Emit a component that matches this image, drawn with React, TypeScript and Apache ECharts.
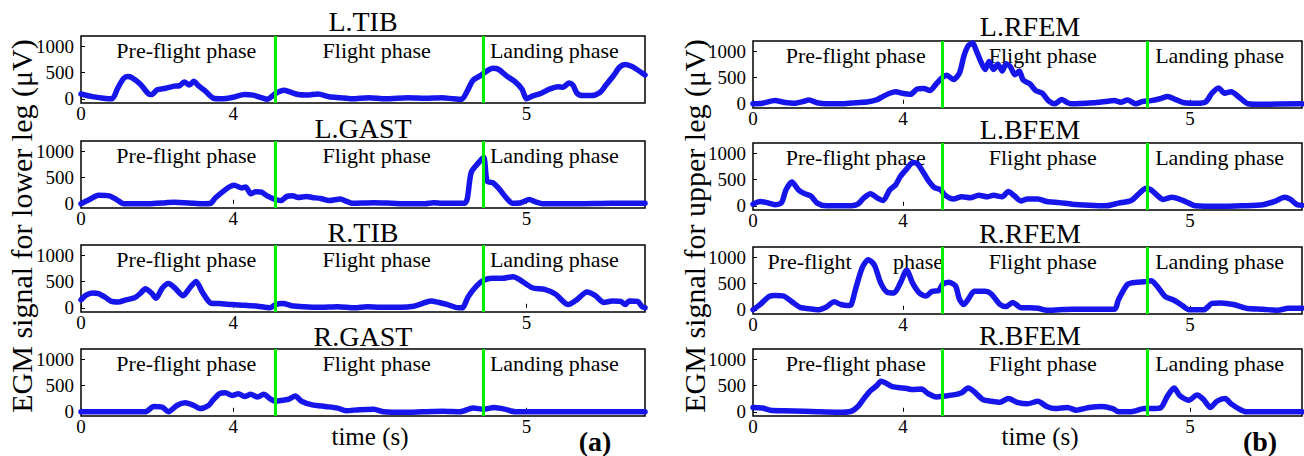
import React, { useEffect, useRef } from 'react';
import * as echarts from 'echarts';

const LEFT_NAMES = ['L.TIB', 'L.GAST', 'R.TIB', 'R.GAST'];
const RIGHT_NAMES = ['L.RFEM', 'L.BFEM', 'R.RFEM', 'R.BFEM'];
const PHASE_LABELS = ['Pre-flight phase', 'Flight phase', 'Landing phase'];
const X_TICK_LABELS = ['0', '4', '5'];
const X_TICKS_LEFT = [0, 27, 79];
const X_TICKS_RIGHT = [0, 27.3, 79.6];
const PHASE_BOUNDS_LEFT = [34.5, 71.4];
const PHASE_BOUNDS_RIGHT = [34.5, 71.8];
const Y_TICKS = [0, 500, 1000];
const Y_MIN = -80;
const Y_MAX = 1190;

const L_TIB = [[0,90],[2,40],[4,10],[5.5,0],[6.5,200],[7.5,380],[8.3,420],[9,400],[10.5,280],[12,90],[12.5,80],[13.5,170],[15,200],[16.5,240],[17.5,250],[18.3,320],[19.2,260],[20,330],[20.8,250],[22,150],[23.5,10],[25,0],[27,30],[29,80],[30.5,70],[32,20],[33,-10],[34.5,100],[36,160],[37,130],[38.5,80],[40,70],[42,90],[44,40],[46,20],[48,0],[51,20],[54,0],[58,20],[61,10],[64,20],[66,0],[67.5,-10],[68.5,150],[69.5,350],[71,450],[72,530],[73,580],[74,560],[75.5,430],[77,320],[78.2,180],[79,0],[80,50],[81.5,100],[83,180],[84.5,230],[85.5,220],[86.5,300],[87.2,260],[88,100],[89,60],[90.5,60],[92,120],[93,250],[94.5,450],[95.5,600],[96.5,650],[97.5,620],[98.5,560],[100,450]];
const L_GAST = [[0,0],[1.5,80],[3.1,160],[5,150],[6.3,80],[7.6,0],[12,0],[15,20],[16.5,30],[20,10],[21.5,0],[23,10],[23.8,110],[25.5,260],[26.5,330],[27.2,350],[28.5,300],[29.2,320],[30.1,190],[31,230],[32,220],[33,150],[34,100],[34.5,80],[35.5,60],[36.5,140],[37.5,150],[38.5,120],[40,140],[41,120],[42.5,100],[44,60],[46,90],[47,50],[48,10],[52,20],[55,10],[58,0],[61,0],[62.5,20],[64,10],[68,10],[68.5,100],[69.2,600],[70.5,780],[71.4,880],[72,430],[73,400],[74,300],[75.5,100],[76.5,10],[78,20],[79.5,80],[80.5,40],[82,0],[88,0],[94,10],[100,10]];
const R_TIB = [[0,150],[0.9,240],[2,280],[3.1,270],[4.3,200],[5.4,120],[6.5,110],[8,150],[9.5,190],[10.6,280],[11.4,360],[12.5,280],[13.3,180],[14.4,370],[15.5,460],[16.6,380],[18.1,230],[19.3,380],[20.4,500],[21.5,300],[23,90],[24.5,80],[26.8,60],[29,50],[31.3,30],[33.5,0],[34.5,60],[35.8,80],[37.3,40],[39.5,20],[42.5,10],[45.5,20],[48.5,0],[50.7,20],[53,10],[56.7,10],[59,30],[60.5,80],[62,130],[63.5,100],[65,60],[66.9,0],[67.6,0],[68.7,220],[70.2,420],[71.4,520],[72.9,560],[74.7,560],[76.6,590],[77.7,540],[80,380],[82.2,350],[84.1,260],[86.4,60],[87.9,150],[89.7,300],[91.2,230],[92.7,100],[94.2,130],[95.7,120],[96.5,60],[97.2,130],[98.7,120],[99.5,20],[100,0]];
const R_GAST = [[0,0],[11.4,0],[12.9,100],[14.4,90],[15.5,0],[17,120],[18.5,170],[20,120],[21.1,60],[22.6,120],[23.4,220],[24.5,340],[25.6,360],[26.8,310],[27.9,340],[29,290],[30.1,330],[31.3,280],[32.4,330],[33.5,250],[34.5,200],[35.8,220],[36.9,240],[38,300],[39.1,200],[41,130],[43.3,100],[45.5,70],[47,20],[49.3,40],[51.9,50],[53.7,0],[57.5,-10],[60.5,0],[64.2,10],[67.2,0],[69.5,70],[71.4,50],[73.2,80],[75.1,50],[77,0],[100,0]];
const L_RFEM = [[0,0],[1.7,10],[4,60],[5.6,30],[7.5,10],[9,40],[10.2,70],[11.7,20],[13.3,0],[16.4,0],[18.7,20],[21,40],[22.6,80],[23.7,140],[24.9,200],[26,230],[27.2,200],[28.7,180],[29.9,280],[31.1,290],[32.2,250],[33.4,380],[34.5,500],[35.3,540],[36.5,460],[37.6,580],[38.4,900],[39.2,1100],[40,1150],[40.7,1000],[41.5,800],[42.3,650],[43,800],[43.8,650],[44.6,750],[45.4,620],[46.1,760],[46.9,700],[47.7,550],[48.5,620],[49.2,450],[50.4,380],[51.5,250],[52.7,200],[53.9,50],[55,0],[56.2,80],[57.3,20],[58.1,0],[61.9,20],[64.7,50],[65.8,60],[67,30],[68.2,70],[69.7,0],[70.9,40],[72.5,60],[74.3,100],[75.5,140],[77,80],[78.6,20],[80.9,10],[82.5,40],[83.6,200],[84.8,300],[85.9,200],[87.1,230],[88.6,120],[90.2,0],[92.1,-10],[100,0]];
const L_BFEM = [[0,30],[1.3,80],[2.5,60],[4,20],[5.2,60],[6,300],[7.1,450],[8.3,300],[9.4,230],[10.6,180],[11.7,50],[13.3,0],[17.9,0],[19.1,30],[20.2,150],[21.4,230],[22.6,150],[23.7,100],[24.9,300],[26,400],[26.8,550],[28,700],[29.1,820],[29.9,800],[31.1,620],[31.8,500],[33,350],[34.2,300],[35,200],[36.5,130],[38,170],[39.6,150],[41.1,200],[42.7,170],[43.8,200],[45.4,170],[46.5,270],[47.7,180],[48.8,90],[50,130],[51.9,130],[53.5,80],[55.8,60],[58.1,30],[61.2,10],[64.3,0],[66.6,50],[68.9,100],[70.5,250],[71.6,330],[72.5,300],[73.6,200],[74.7,120],[76.3,160],[77.8,120],[79.4,50],[80.5,0],[85.2,-10],[89,0],[92.9,20],[95.2,90],[96.8,160],[97.9,120],[99.1,20],[100,10]];
const R_RFEM = [[0,0],[1.3,100],[2.9,250],[4,270],[5.6,260],[7.1,150],[8.7,40],[10.2,20],[11.7,0],[13.3,50],[14.8,150],[16,100],[17.2,80],[17.9,100],[18.7,400],[19.9,800],[21,950],[22.1,850],[23.3,500],[24.5,330],[25.7,320],[26.8,500],[28,750],[29.1,500],[30.3,320],[31.5,260],[32.6,350],[33.8,360],[34.5,480],[35.7,520],[36.9,450],[37.6,200],[38.4,100],[39.2,200],[40.3,350],[42.3,350],[43.4,300],[45,100],[46.1,60],[47.3,140],[48.8,40],[50.4,40],[51.9,30],[53.5,-10],[55.8,0],[58.1,10],[65.8,10],[66.6,200],[68.2,480],[69.7,520],[71.3,530],[72.5,550],[73.6,450],[75.1,250],[76.7,180],[78.2,80],[79.4,0],[82.1,0],[83.6,120],[85.2,130],[87.5,100],[89.8,30],[92.9,10],[95.6,-10],[97.5,30],[100,30]];
const R_BFEM = [[0,80],[1.7,70],[3.2,30],[5.6,20],[9.4,10],[11.7,0],[15.6,-10],[17.9,10],[19.1,100],[20.2,250],[21.4,400],[22.6,500],[23.3,580],[24.1,550],[25.3,480],[26.4,460],[28,440],[29.1,420],[30.7,430],[31.8,350],[33.4,280],[34.9,300],[36.5,320],[38,360],[39.2,450],[40.3,380],[41.9,230],[43.4,200],[45,180],[46.5,250],[48.1,180],[50,150],[51.9,200],[53.5,100],[55,60],[57.3,80],[58.9,30],[61.2,80],[63.5,100],[65.5,60],[66.6,0],[68.9,0],[71.3,60],[72.5,60],[74.3,80],[75.5,300],[76.7,450],[77.8,300],[79.4,220],[80.9,320],[82.1,230],[83.3,80],[84.5,200],[86,250],[87.1,150],[88.6,50],[89.8,0],[100,0]];

const LEFT_DATA = [L_TIB, L_GAST, R_TIB, R_GAST];
const RIGHT_DATA = [L_RFEM, L_BFEM, R_RFEM, R_BFEM];

const FONT = 'Liberation Serif';

export default function App() {
  const ref = useRef<HTMLDivElement>(null);
  useEffect(() => {
    if (!ref.current) return;
    const chart = echarts.init(ref.current, undefined, { renderer: 'svg' });

    const panels: any[] = [];
    const leftTops = [36, 141, 245, 349];
    const rightTops = [41, 143, 247, 349];
    for (let i = 0; i < 4; i++) {
      panels.push({ name: LEFT_NAMES[i], data: LEFT_DATA[i], left: 81, width: 564, top: leftTops[i], height: 67, ticks: X_TICKS_LEFT, bounds: PHASE_BOUNDS_LEFT, cx: 363, side: 'L' });
    }
    for (let i = 0; i < 4; i++) {
      panels.push({ name: RIGHT_NAMES[i], data: RIGHT_DATA[i], left: 753, width: 549, top: rightTops[i], height: 67, ticks: X_TICKS_RIGHT, bounds: PHASE_BOUNDS_RIGHT, cx: 1030, side: 'R' });
    }
    const titleY = [21, 128, 232, 336, 26, 129, 233, 335];

    const labelStyle = (dx: number) => ({
      show: true,
      position: 'insideTop',
      distance: 3,
      offset: [dx, 0],
      color: '#000',
      fontFamily: FONT,
      fontSize: 22,
      lineHeight: 22,
      formatter: '{b}',
    });

    const grid = panels.map((p) => ({
      left: p.left, top: p.top, width: p.width, height: p.height,
      show: true, borderColor: '#000', borderWidth: 1.5, backgroundColor: 'transparent',
    }));
    const xAxis = panels.map((p, i) => ({
      type: 'value', gridIndex: i, min: 0, max: 100,
      axisLine: { show: false }, splitLine: { show: false },
      axisTick: { show: true, inside: true, length: 4, customValues: p.ticks, lineStyle: { color: '#000', width: 1 } },
      axisLabel: {
        customValues: p.ticks,
        formatter: (v: number) => {
          let best = 0;
          p.ticks.forEach((t: number, k: number) => { if (Math.abs(t - v) < Math.abs(p.ticks[best] - v)) best = k; });
          return X_TICK_LABELS[best];
        },
        margin: 1, fontSize: 19, fontFamily: FONT, color: '#000',
      },
    }));
    const yAxis = panels.map((p, i) => ({
      type: 'value', gridIndex: i, min: Y_MIN, max: Y_MAX,
      axisLine: { show: false }, splitLine: { show: false },
      axisTick: { show: true, inside: true, length: 4, customValues: Y_TICKS, lineStyle: { color: '#000', width: 1 } },
      axisLabel: { customValues: Y_TICKS, formatter: (v: number) => String(Math.round(v)), margin: 7, fontSize: 19, fontFamily: FONT, color: '#000' },
    }));

    const series = panels.map((p, i) => {
      const [b0, b1] = p.bounds;
      let areas: any[];
      if (p.name === 'R.RFEM') {
        areas = [
          [{ name: 'Pre-flight', xAxis: 0, label: labelStyle(0) }, { xAxis: 20.6 }],
          [{ name: 'phase', xAxis: 25.6, label: labelStyle(0) }, { xAxis: b0 }],
          [{ name: PHASE_LABELS[1], xAxis: b0, label: labelStyle(-2) }, { xAxis: b1 }],
          [{ name: PHASE_LABELS[2], xAxis: b1, label: labelStyle(-5) }, { xAxis: 100 }],
        ];
      } else {
        areas = [
          [{ name: PHASE_LABELS[0], xAxis: 0, label: labelStyle(8) }, { xAxis: b0 }],
          [{ name: PHASE_LABELS[1], xAxis: b0, label: labelStyle(p.side === 'L' ? -3 : -2) }, { xAxis: b1 }],
          [{ name: PHASE_LABELS[2], xAxis: b1, label: labelStyle(p.side === 'L' ? -10 : -5) }, { xAxis: 100 }],
        ];
      }
      return {
        type: 'line', name: p.name, xAxisIndex: i, yAxisIndex: i,
        data: p.data, showSymbol: false, symbol: 'none', smooth: 0.25,
        lineStyle: { color: '#1616ec', width: 5.5, cap: 'round', join: 'round' },
        z: 2,
        markLine: {
          silent: true, symbol: ['none', 'none'], label: { show: false },
          lineStyle: { color: '#00ee00', width: 3, type: 'solid' },
          data: [{ xAxis: b0 }, { xAxis: b1 }],
        },
        markArea: {
          silent: true,
          itemStyle: { color: 'rgba(0,0,0,0)' },
          data: areas,
        },
      };
    });

    const txt = (text: string, x: number, y: number, fontSize: number, extra: any = {}) => ({
      type: 'text', x, y, ...extra,
      style: { text, fontFamily: FONT, fontSize, fill: '#000', textAlign: 'center', textVerticalAlign: 'middle', ...(extra.style || {}) },
    });

    const graphic: any[] = panels.map((p, i) => txt(p.name, p.cx, titleY[i], 28));
    graphic.push(
      txt('EGM signal for lower leg (μV)', 21, 226, 30, { rotation: Math.PI / 2 }),
      txt('EGM signal for upper leg (μV)', 694, 226, 30, { rotation: Math.PI / 2 }),
      txt('time (s)', 370, 436, 25),
      txt('time (s)', 1040, 436, 25),
      txt('(a)', 595, 441, 28, { style: { fontWeight: 'bold' } }),
      txt('(b)', 1260, 441, 28, { style: { fontWeight: 'bold' } }),
    );

    chart.setOption({
      animation: false,
      backgroundColor: '#fff',
      grid, xAxis, yAxis, series, graphic,
    });
    return () => chart.dispose();
  }, []);
  return <div ref={ref} style={{ position: 'fixed', left: 0, top: 0, width: 1304, height: 456 }} />;
}
